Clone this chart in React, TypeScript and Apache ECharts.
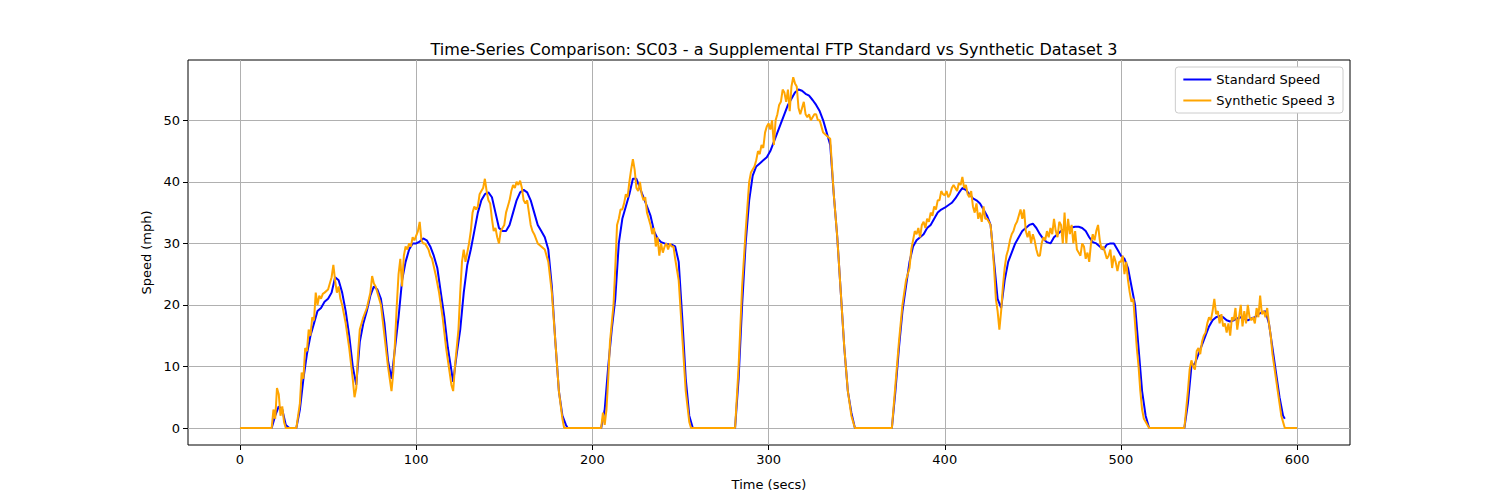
import React, { useEffect, useRef } from "react";
import * as echarts from "echarts";

const standardSpeed: [number, number][] = [
[0,0],[18,0],[20,2],[22,3.5],[24,3],[26,0.5],[28,0],[32,0],[34,3],[36,8],[38,12],[40,15],[42,17],[44,19],[46,19.5],[48,20.5],[50,21],[52,22],[54,24.5],[56,24],[58,22],[60,19],[62,15],[64,10],[66,7],[68,14],[70,17],[72,19],[74,21.5],[76,23],[78,22.5],[80,21],[82,17],[84,11],[86,8],[88,13],[90,18],[92,24],[94,27],[96,29],[98,30],[100,30],[102,30.3],[104,30.8],[106,30.5],[108,29.5],[110,28],[112,26],[114,22],[116,18],[118,13],[121,7.5],[123,12],[125,16],[127,22],[129,26.5],[131,29],[133,32],[135,35],[137,37],[139,38],[141,38.3],[143,37.5],[145,35],[147,32.5],[149,32],[151,32],[153,33],[155,35],[157,37],[159,38.3],[161,38.7],[163,38.3],[165,37],[167,35],[169,33],[171,32],[173,31],[175,29],[177,23],[179,14],[181,6],[183,2],[185,0.5],[186,0],[205,0],[207,3],[209,10],[211,16],[213,21],[215,30],[217,34],[219,36],[221,38],[223,40.5],[225,40.5],[227,39],[229,37.5],[231,36],[233,34.5],[235,32],[237,30.8],[239,30.2],[241,30],[245,29.8],[247,29.5],[249,27],[251,18],[253,8],[255,2],[257,0],[281,0],[283,8],[285,20],[287,30],[289,37],[291,41],[293,42.5],[295,43],[297,43.5],[299,44],[301,45],[303,46.5],[305,48],[307,49.5],[309,51],[311,52.5],[313,53.5],[315,54.5],[317,55],[319,54.8],[321,54.3],[323,54],[325,53.3],[327,52.5],[329,51.5],[331,50],[333,48],[335,46],[337,38],[339,31],[341,22],[343,13],[345,6],[347,2.5],[349,0],[370,0],[372,6],[374,13],[376,19],[378,23],[380,27],[382,29.5],[384,30.5],[386,31],[388,31.5],[390,32.5],[392,33],[394,34],[396,35],[398,35.5],[400,35.8],[402,36.2],[404,36.6],[406,37.3],[408,38.2],[410,39],[412,38.7],[414,38],[416,37.3],[418,37],[420,36.5],[422,35.5],[424,34.5],[426,33],[428,27],[430,21],[432,19.5],[434,24],[436,27],[438,28.5],[440,30],[442,31],[444,32],[446,32.5],[448,33],[450,33.2],[452,32.5],[454,31.5],[456,30.7],[458,30.2],[460,30],[462,31],[464,31.5],[466,32],[468,32.3],[470,32.5],[472,32.6],[474,32.7],[476,32.7],[478,32.5],[480,32],[482,31],[484,30.2],[486,30],[488,29.5],[490,29],[492,29.8],[494,30],[496,30],[498,29],[500,28],[502,27.5],[504,26],[506,23],[508,20],[510,13],[512,6],[514,2],[516,0],[536,0],[538,4],[540,10],[542,10.5],[544,12],[546,13.5],[548,15],[550,16.5],[552,17.5],[554,18],[556,18.2],[558,18],[560,17.5],[562,17.3],[564,17.5],[566,17.8],[568,18],[570,17.8],[572,17.5],[574,17.8],[576,18],[578,18.5],[580,18.8],[582,19],[584,17],[586,13],[588,9],[590,5],[592,2],[593,1.5]
];

const syntheticSpeed: [number, number][] = [
[0,0],[18,0],[19,3],[20,1.5],[21,6.5],[22,5.5],[23,2],[24,3.5],[25,1],[26,0],[32,0],[33,2],[34,4],[35,9],[36,8],[37,13],[38,12.5],[39,16],[40,15],[41,18],[42,17.5],[43,22],[44,20],[45,21.5],[46,21],[47,21.8],[48,22],[50,22.5],[52,24.5],[53,26.5],[54,24],[55,22],[56,23],[57,21],[58,20],[60,17],[62,13],[64,8],[65,5],[66,6.5],[67,12],[68,16],[70,18],[72,19.5],[74,22],[75,24.7],[76,23.5],[77,23],[78,22],[80,20],[82,15],[84,10],[86,6],[87,9],[88,14],[89,20],[90,25],[91,27.5],[92,23],[93,28],[94,29.5],[95,29],[96,30],[97,29.5],[98,31],[99,30.5],[101,32],[102,33.5],[103,30.5],[104,30],[105,30],[106,29.5],[107,29],[108,28],[109,27.5],[111,25],[113,22],[115,18],[117,13],[119,9],[120,7],[121,6],[122,10],[123,13],[124,16],[125,22],[126,27],[127,29],[128,27],[129,28.5],[130,30],[131,32],[132,35],[133,36],[134,35.5],[135,36],[136,38],[137,38.5],[138,39],[139,40.5],[140,38.5],[141,37],[142,36.5],[143,34],[144,32],[145,32.5],[146,31],[147,30],[148,32],[149,32.5],[150,33],[151,35],[152,36],[153,37],[154,38.5],[155,39.5],[156,39],[157,40],[158,39.5],[159,40.2],[160,39],[161,37],[162,36.5],[163,37],[164,35],[165,33],[166,32],[167,31.5],[169,30],[171,29.5],[173,29],[175,27],[177,22],[179,14],[181,6],[183,1.5],[184,0],[205,0],[206,2.5],[207,0.5],[208,3],[209,8],[210,14],[211,17],[212,20],[213,26],[214,33],[215,34],[216,35.5],[217,35.5],[218,36.5],[219,38],[220,37.5],[221,40],[222,42],[223,43.7],[224,42],[225,39],[226,38.5],[227,40],[228,38],[229,37],[230,37.5],[231,35],[232,34],[233,33],[234,31.5],[235,32.5],[236,29.5],[237,31],[238,28],[239,30],[240,28.5],[241,29.5],[242,30],[243,29],[244,30],[245,29.5],[246,29.5],[247,27.5],[249,24],[251,15],[253,6],[255,1],[256,0],[281,0],[283,10],[285,23],[287,32],[289,40],[290,41.5],[291,42],[292,42.5],[293,43.5],[294,45],[295,44.5],[296,46],[297,45.5],[298,48],[299,49],[300,49.5],[301,48.5],[302,50],[303,46],[304,50],[305,51],[306,52.5],[307,53],[308,55],[309,54.5],[310,53],[311,55],[312,51.5],[313,55.5],[314,57],[315,56],[316,55.5],[317,52],[318,51],[319,52],[320,53],[321,51],[322,50.5],[323,51],[324,50],[325,50.5],[326,51],[327,51],[328,50],[329,50],[331,48],[333,47.5],[335,47],[337,38],[339,31],[341,22],[343,13],[345,6],[347,2],[349,0],[370,0],[372,7],[374,14],[376,20],[378,24],[380,26],[381,29],[382,30.5],[383,32],[384,31.5],[385,32.5],[386,31],[387,33],[388,33.5],[389,32.5],[390,34],[391,33.5],[392,35],[393,34.5],[394,36],[395,35.5],[396,37],[397,37],[398,38.5],[399,38],[400,37.8],[401,38.5],[402,37.5],[403,38],[404,39],[405,39.5],[406,39],[407,38.5],[408,39.8],[409,39.5],[410,40.8],[411,39],[412,39.5],[413,38],[414,37.5],[415,38.5],[416,36],[417,35],[418,36.5],[419,34],[420,35],[421,33.5],[422,36],[423,34],[424,34],[425,33.5],[426,33],[427,30],[428,26],[429,21],[430,19],[431,16],[432,19],[433,23],[434,26],[435,28],[436,29],[437,30.5],[438,31.5],[439,32],[440,33],[441,33.5],[442,34.5],[443,35.5],[444,34],[445,35.5],[446,32],[447,31],[448,32],[449,30],[450,31.5],[451,30.5],[452,29],[453,28],[454,28],[455,30],[456,31],[457,30.5],[458,32],[459,31],[460,32.5],[461,31.5],[462,34],[463,32],[464,31],[465,33.5],[466,33],[467,30],[468,35],[469,30],[470,34],[471,31.5],[472,33],[473,30],[474,32],[475,29],[476,28.5],[477,28],[478,30],[479,29.5],[480,27.5],[481,28.5],[482,27],[483,30],[484,31.5],[485,30.5],[486,32],[487,33],[488,30.5],[489,29],[490,29.5],[491,28.5],[492,27.5],[493,28],[494,29],[495,26],[496,28],[497,27],[498,25.5],[499,27],[500,27],[501,28],[502,25],[503,27],[504,24],[505,22],[506,20.5],[507,21],[508,17],[509,13],[510,10],[511,6],[512,3],[513,1.5],[514,1],[516,0],[536,0],[537,3],[538,6],[539,9.5],[540,11],[541,10],[542,9.5],[543,12.5],[544,13],[545,12],[546,14],[547,15],[548,15.5],[549,17],[550,18],[551,17.5],[552,19],[553,21],[554,18.5],[555,19],[556,17],[557,18.5],[558,16.5],[559,17],[560,15.5],[561,17],[562,15],[563,18],[564,17.5],[565,19.5],[566,16],[567,18],[568,20],[569,16.5],[570,19],[571,17],[572,20],[573,18],[574,17.5],[575,18],[576,17],[577,19.5],[578,18],[579,21.5],[580,18.5],[581,19],[582,18],[583,19.5],[584,17],[585,15],[586,12],[587,10],[588,8],[589,6],[590,4],[591,2],[592,1],[593,0],[600,0]
];

const xTicks = [0, 100, 200, 300, 400, 500, 600];
const yTicks = [0, 10, 20, 30, 40, 50];

export default function App() {
  const ref = useRef<HTMLDivElement>(null);
  useEffect(() => {
    document.body.style.margin = "0";
    const chart = echarts.init(ref.current!, null, { renderer: "svg" });
    const font = "DejaVu Sans";
    chart.setOption({
      animation: false,
      backgroundColor: "#ffffff",
      textStyle: { fontFamily: font },
      title: {
        text: "Time-Series Comparison: SC03 - a Supplemental FTP Standard vs Synthetic Dataset 3",
        left: 769, top: 36, textAlign: "center",
        textStyle: { fontSize: 16, fontWeight: "normal", color: "#000", fontFamily: font },
      },
      grid: { left: 188, right: 150, top: 60, bottom: 55, show: true, borderColor: "#000", borderWidth: 1, backgroundColor: "transparent" },
      legend: {
        orient: "vertical", right: 157, top: 67, backgroundColor: "#fff", borderColor: "#cccccc", borderWidth: 1, borderRadius: 3,
        padding: [6, 8, 6, 8], itemGap: 8, itemWidth: 28, itemHeight: 2, icon: "rect",
        textStyle: { fontSize: 13, color: "#000", fontFamily: font },
        data: ["Standard Speed", "Synthetic Speed 3"],
      },
      xAxis: {
        type: "value", min: -29.5, max: 630,
        name: "Time (secs)", nameLocation: "middle", nameGap: 33,
        nameTextStyle: { fontSize: 13, color: "#000", fontFamily: font },
        axisLine: { show: false, onZero: false },
        axisTick: { show: true, length: 5, inside: false, lineStyle: { color: "#000" }, customValues: xTicks },
        axisLabel: { fontSize: 13, color: "#000", margin: 8, customValues: xTicks, fontFamily: font },
        splitLine: { show: true, lineStyle: { color: "#b0b0b0", width: 1 } },
      },
      yAxis: {
        type: "value", min: -2.76, max: 59.8,
        name: "Speed (mph)", nameLocation: "middle", nameGap: 35,
        nameTextStyle: { fontSize: 13, color: "#000", fontFamily: font },
        axisLine: { show: false, onZero: false },
        axisTick: { show: true, length: 5, lineStyle: { color: "#000" }, customValues: yTicks },
        axisLabel: { fontSize: 13, color: "#000", margin: 8, customValues: yTicks, fontFamily: font },
        splitLine: { show: true, lineStyle: { color: "#b0b0b0", width: 1 } },
      },
      series: [
        { name: "Standard Speed", type: "line", data: standardSpeed, showSymbol: false, symbol: "none", color: "#0000ff", lineStyle: { width: 2, color: "#0000ff" } },
        { name: "Synthetic Speed 3", type: "line", data: syntheticSpeed, showSymbol: false, symbol: "none", color: "#ffa500", lineStyle: { width: 2, color: "#ffa500" } },
      ],
    });
    return () => chart.dispose();
  }, []);
  return <div ref={ref} style={{ width: 1500, height: 500 }} />;
}
